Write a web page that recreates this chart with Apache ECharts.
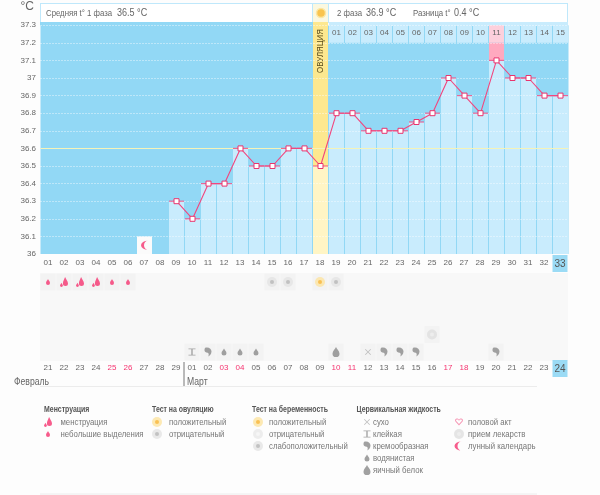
<!DOCTYPE html>
<html><head><meta charset="utf-8">
<style>html,body{margin:0;padding:0;background:#fdfdfd}#c{width:600px;height:495px}</style>
<script src="https://cdn.jsdelivr.net/npm/echarts@6/dist/echarts.min.js"></script>
</head><body><div id="c"></div>
<script>
const cycleDays=['01','02','03','04','05','06','07','08','09','10','11','12','13','14','15','16','17','18','19','20','21','22','23','24','25','26','27','28','29','30','31','32','33'];
const temps=[null,null,null,null,null,null,null,null,36.3,36.2,36.4,36.4,36.6,36.5,36.5,36.6,36.6,36.5,36.8,36.8,36.7,36.7,36.7,36.75,36.8,37,36.9,36.8,37.1,37,37,36.9,36.9];
const phase2Dates=['','','','','','','','','','','','','','','','','','','01','02','03','04','05','06','07','08','09','10','11','12','13','14','15'];
const calendarDates=['21','22','23','24','25','26','27','28','29','01','02','03','04','05','06','07','08','09','10','11','12','13','14','15','16','17','18','19','20','21','22','23','24'];
const redDates=[4,5,11,12,18,19,25,26];
const iconRows=[
 {row:0,col:0,k:'dropS'},{row:0,col:1,k:'dropL'},{row:0,col:2,k:'dropL'},{row:0,col:3,k:'dropL'},{row:0,col:4,k:'dropS'},{row:0,col:5,k:'dropS'},
 {row:0,col:14,k:'target'},{row:0,col:15,k:'target'},{row:0,col:17,k:'sun'},{row:0,col:18,k:'target'},
 {row:3,col:24,k:'pill'},
 {row:4,col:9,k:'sticky'},{row:4,col:10,k:'creamy'},{row:4,col:11,k:'watery'},{row:4,col:12,k:'watery'},{row:4,col:13,k:'watery'},
 {row:4,col:18,k:'egg'},{row:4,col:20,k:'dry'},{row:4,col:21,k:'creamy'},{row:4,col:22,k:'creamy'},{row:4,col:23,k:'creamy'},{row:4,col:28,k:'creamy'}
];
const legendHeads=[['Менструация',44],['Тест на овуляцию',152],['Тест на беременность',252],['Цервикальная жидкость',356.5]];
const legendItems=[
 ['менструация',60.5,422],['небольшие выделения',60.5,434],
 ['положительный',169,422],['отрицательный',169,434],
 ['положительный',269,422],['отрицательный',269,434],['слабоположительный',269,446],
 ['сухо',373,422],['клейкая',373,434],['кремообразная',373,446],['водянистая',373,458],['яичный белок',373,470],
 ['половой акт',468,422],['прием лекарств',468,434],['лунный календарь',468,446]
];
const legendIcons=[
 ['dropL',48,422],['dropS',48,434],['sun',157,422],['target',157,434],
 ['sun',258,422],['blank',258,434],['target',258,446],
 ['dry',367,422],['sticky',367,434],['creamy',367,446],['watery',367,458],['egg',367,470],
 ['heart',459,422],['pill',459,434],['moon',458,446]
];
const P={
 dropS:'path://M5 0C6 3 10 6 10 10A5 5 0 0 1 0 10C0 6 4 3 5 0Z',
 dropL:'path://M7 0C8 3 11 6 11 9A3.5 3.5 0 0 1 4 9C4 6 6 3 7 0ZM2 8C2.5 9.5 4 11 4 12A2 2 0 0 1 0 12C0 11 1.5 9.5 2 8Z',
 cream:'path://M2 0C7 -1 11 2 11 6C11 10 8 13 6 14C7 11 7 9 5 8C2 8 0 6 0 4C0 2 1 0 2 0Z',
 dry:'path://M0 1L1 0L5 4L9 0L10 1L6 5L10 9L9 10L5 6L1 10L0 9L4 5Z',
 sticky:'path://M0 0H10V1H6V9H10V10H0V9H4V1H0Z',
 moon:'path://M7 0A7 7 0 1 0 7 14A4 7 0 0 1 7 0Z',
 heart:'path://M5 10L0.5 4.5C-1.5 1 3 -1.5 5 2C7 -1.5 11.5 1 9.5 4.5ZM5 8L8.5 3.8C9.5 1.8 6.5 0.5 5 3.6C3.5 0.5 0.5 1.8 1.5 3.8Z'
};
const KS={
 dropS:{symbol:P.dropS,symbolSize:[4,6],color:'#f5336f'},
 dropL:{symbol:P.dropL,symbolSize:[8,10],color:'#f5336f'},
 sticky:{symbol:P.sticky,symbolSize:[7,7],color:'#8e8e8e'},
 creamy:{symbol:P.cream,symbolSize:[7,9],color:'#8a8a8a'},
 watery:{symbol:P.dropS,symbolSize:[5,7],color:'#8a8a8a'},
 egg:{symbol:P.dropS,symbolSize:[7,10],color:'#8a8a8a'},
 dry:{symbol:P.dry,symbolSize:[6,6],color:'#b0b0b0'},
 heart:{symbol:P.heart,symbolSize:[8,7],color:'#f47aa0'},
 moon:{symbol:P.moon,symbolSize:[7,9],color:'#f5336f'}
};
const DISC={target:['#e4e4e4','#b8b8b8'],sun:['#fde3a0','#f7b63c'],pill:['#dedede','#efefef'],blank:['#e8e8e8','#f8f8f8']};
const font='"Liberation Sans",sans-serif';
const T='#666';
const AX=8;
const chart=echarts.init(document.getElementById('c'));
const glyph=(d,pos)=>{const s=KS[d];return {value:pos,symbol:s.symbol,symbolSize:s.symbolSize,itemStyle:{color:s.color}}};
const gridGlyphs=iconRows.filter(d=>KS[d.k]).map(d=>glyph(d.k,[d.col,d.row]));
const gridDiscs=iconRows.filter(d=>DISC[d.k]);
const legendGlyphs=legendIcons.filter(d=>KS[d[0]]).map(d=>glyph(d[0],[d[1],d[2]]));
const legendDiscs=legendIcons.filter(d=>DISC[d[0]]);
const discData=(list,inner,get)=>list.map(d=>{const [k,p]=get(d);return {value:p,symbol:'circle',symbolSize:inner?4:10,itemStyle:{color:DISC[k][inner?1:0]}}});
const getG=d=>[d.k,[d.col,d.row]], getL=d=>[d[0],[d[1],d[2]]];
const g=[];
const txt=(text,x,y,size,style,sx)=>g.push({type:'text',x,y,z:3,scaleX:sx||.82,style:Object.assign({text,font:size+'px '+font,fill:T,textVerticalAlign:'middle'},style)});
const rect=(x,y,w,h,fill,z)=>g.push({type:'rect',z:z||1,shape:{x,y,width:w,height:h},style:{fill}});
rect(40,3,528,20,'#bfe8fb');
rect(41,4,271,18,'#fff',2);
rect(313,4,15,18,'#fbf8e0',2);
rect(329,4,238,18,'#fff',2);
rect(40,22,273,4,'#92d8f5');
rect(313,22,15,4,'#fde88f');
rect(329,22,239,4,'#c9ecfd');
rect(40,273,528,88,'#f8f8f8',0);
txt('°C',34,7,12,{textAlign:'right'},1);
txt('Средняя t° 1 фаза',46,13.5,9.5);
txt('36.5 °C',117,13,11);
txt('2 фаза',337,13.5,9.5);
txt('36.9 °C',366,13,11);
txt('Разница t°',413,13.5,9.5);
txt('0.4 °C',454,13,11);
g.push({type:'circle',z:3,shape:{cx:321,cy:13,r:4.5},style:{fill:'#f9c44e',stroke:'#fbe7a4',lineWidth:1.5}});
g.push({type:'text',x:320.5,y:51,rotation:Math.PI/2,scaleX:.83,z:30,style:{text:'ОВУЛЯЦИЯ',font:'9.5px '+font,fill:'#5b4c1a',textAlign:'center',textVerticalAlign:'middle'}});
txt('Февраль',14,382,10.5);
txt('Март',187,382,10.5);
g.push({type:'line',shape:{x1:184,y1:362,x2:184,y2:386},style:{stroke:'#777',lineWidth:1}});
g.push({type:'line',shape:{x1:40,y1:386.5,x2:537,y2:386.5},style:{stroke:'#ececec',lineWidth:1}});
g.push({type:'line',shape:{x1:40,y1:494,x2:537,y2:494},style:{stroke:'#ececec',lineWidth:1}});
legendHeads.forEach(h=>txt(h[0],h[1],410,9,{font:'bold 9px '+font,fill:'#555'},.77));
legendItems.forEach(h=>txt(h[0],h[1],h[2],9.5,{fill:'#777'}));
const bars=(data,color,z,stack)=>({type:'bar',stack,xAxisIndex:0,yAxisIndex:0,barGap:'-100%',barWidth:15,data,itemStyle:{color},z,silent:true});
const at=(fn)=>cycleDays.map((d,i)=>fn(i));
const headerCols=i=>i>=18&&i!==28;
chart.setOption({
 animation:false,
 backgroundColor:'#fdfdfd',
 graphic:g,
 grid:[
  {left:40.5,top:25.2,width:528,height:228.8,backgroundColor:'#92d8f5',show:true,borderWidth:0},
  {left:40,top:273.25,width:528,height:87.5,show:false},
  {left:40,top:255,width:528,height:17,show:false},
  {left:40,top:360,width:528,height:17,show:false},
  {left:0,top:0,width:600,height:495,show:false}
 ],
 xAxis:[
  {gridIndex:0,type:'category',data:cycleDays,axisLine:{show:false},axisTick:{show:false},axisLabel:{show:false}},
  {gridIndex:1,type:'value',min:-.5,max:32.5,show:false},
  {gridIndex:2,z:10,type:'category',data:cycleDays.map((d,i)=>({value:d,textStyle:i===32?{fontSize:10,color:'#555'}:{}})),axisLine:{show:false},axisTick:{show:false},axisLabel:{interval:0,fontSize:AX,color:T,fontFamily:font,margin:-13}},
  {gridIndex:3,z:10,type:'category',data:calendarDates.map((d,i)=>({value:d+'#'+i,textStyle:{color:redDates.includes(i)?'#f5336f':(i===32?'#555':T),fontSize:i===32?10:AX}})),axisLine:{show:false},axisTick:{show:false},axisLabel:{interval:0,fontSize:AX,fontFamily:font,margin:-13,formatter:v=>v.split('#')[0]}},
  {gridIndex:4,type:'value',min:0,max:600,show:false},
  {gridIndex:0,z:10,type:'category',position:'top',data:phase2Dates,axisLine:{show:false},axisTick:{show:false},axisLabel:{inside:true,interval:0,fontSize:AX,color:T,fontFamily:font,margin:4}}
 ],
 yAxis:[
  {gridIndex:0,type:'value',min:36,max:37.3,interval:.1,axisLine:{show:false},axisTick:{show:false},
   axisLabel:{fontSize:AX,color:T,fontFamily:font,margin:4.5,formatter:v=>String(+v.toFixed(1))},splitLine:{show:false}},
  {gridIndex:1,type:'value',min:-.5,max:4.5,inverse:true,show:false},
  {gridIndex:2,type:'value',min:0,max:1,show:false},
  {gridIndex:3,type:'value',min:0,max:1,show:false},
  {gridIndex:4,type:'value',min:0,max:495,inverse:true,show:false}
 ],
 series:[
  bars(at(i=>headerCols(i)?37.2:null),'transparent',2,'h'),
  bars(at(i=>headerCols(i)?.1:null),'#c9ecfd',2,'h'),
  bars(at(i=>i===28?37.2:null),'transparent',2,'p'),
  bars(at(i=>i===28?.1:null),'#fdd0dc',2,'p'),
  bars(at(i=>i===28?37.1:null),'transparent',2,'q'),
  bars(at(i=>i===28?.1:null),'#ffa9bf',2,'q'),
  bars(at(i=>i===17?37.3:null),'#fde88f',2),
  bars(temps.map((v,i)=>i===17?null:v),'#c9ecfd',2),
  bars(at(i=>i===17?temps[i]:null),'#fff5c5',2),
  bars(at(i=>i===6?36.1:null),'#fbfbfb',2),
  {type:'line',xAxisIndex:0,yAxisIndex:0,data:[],symbol:'none',silent:true,z:4,
   markLine:{silent:true,symbol:'none',animation:false,label:{show:false},lineStyle:{color:'rgba(255,255,255,.8)',type:[1,2],width:1},
    data:[36.1,36.2,36.3,36.4,36.5,36.7,36.8,36.9,37,37.1,37.2,37.3].map(v=>({yAxis:v}))}},
  {type:'line',xAxisIndex:0,yAxisIndex:0,data:[],symbol:'none',silent:true,z:5,
   markLine:{silent:true,symbol:'none',animation:false,label:{show:false},lineStyle:{color:'#f5f3b8',type:'solid',width:1},data:[{yAxis:36.6}]}},
  {type:'scatter',xAxisIndex:0,yAxisIndex:0,symbol:'rect',symbolSize:[15,1.2],itemStyle:{color:'#f2467e'},data:temps.map((v,i)=>[i,v]).filter(d=>d[1]!==null),z:6},
  {type:'line',xAxisIndex:0,yAxisIndex:0,data:temps,connectNulls:false,symbol:'rect',symbolSize:5,showAllSymbol:true,lineStyle:{color:'#f2467e',width:1.1},itemStyle:{color:'#fff',borderColor:'#e8356e',borderWidth:1},z:8},
  {type:'scatter',xAxisIndex:0,yAxisIndex:0,symbol:P.moon,symbolSize:[7,9],itemStyle:{color:'#f5336f'},data:[[6,36.05]],z:9},
  {type:'scatter',xAxisIndex:1,yAxisIndex:1,symbol:'rect',symbolSize:[15,16.5],itemStyle:{color:'#f1f1f1'},data:iconRows.map(d=>[d.col,d.row]),z:3},
  {type:'scatter',xAxisIndex:1,yAxisIndex:1,data:gridGlyphs,z:4},
  {type:'scatter',xAxisIndex:1,yAxisIndex:1,data:discData(gridDiscs,false,getG),z:4},
  {type:'scatter',xAxisIndex:1,yAxisIndex:1,data:discData(gridDiscs,true,getG),z:5},
  {type:'scatter',xAxisIndex:4,yAxisIndex:4,data:legendGlyphs,z:4},
  {type:'scatter',xAxisIndex:4,yAxisIndex:4,data:discData(legendDiscs,false,getL),z:4},
  {type:'scatter',xAxisIndex:4,yAxisIndex:4,data:discData(legendDiscs,true,getL),z:5},
  {type:'scatter',xAxisIndex:3,yAxisIndex:3,symbol:'rect',symbolSize:[15,17],itemStyle:{color:'#82d2f2'},data:[['24#32',.5]],z:1},
  {type:'scatter',xAxisIndex:2,yAxisIndex:2,symbol:'rect',symbolSize:[15,17],itemStyle:{color:'#82d2f2'},data:[['33',.5]],z:1}
 ]
});
</script></body></html>
